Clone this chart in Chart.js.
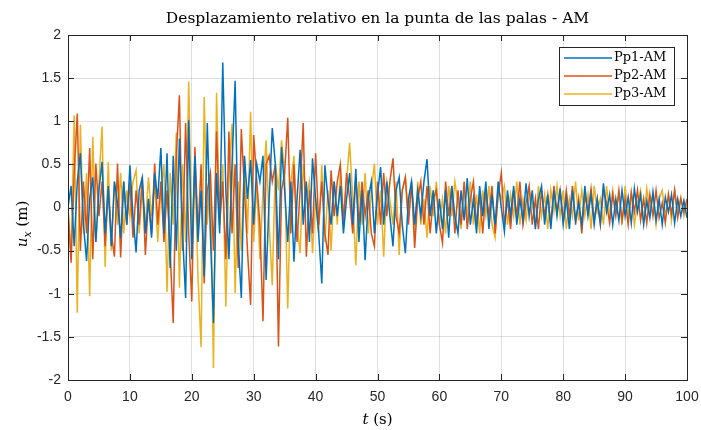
<!DOCTYPE html>
<html>
<head>
<meta charset="utf-8">
<script src="https://cdn.jsdelivr.net/npm/chart.js@4.4.0/dist/chart.umd.min.js"></script>
<style>
  html, body { margin: 0; padding: 0; background: #fff; }
  #wrap { width: 701px; height: 430px; }
</style>
</head>
<body>
<div id="wrap"><canvas id="myChart" width="701" height="430"></canvas></div>
<script>
//
// data (one value every 0.5 s, 0 .. 100 s)
//
const titleText = 'Desplazamiento relativo en la punta de las palas - AM';
const seriesNames = ['Pp1-AM', 'Pp2-AM', 'Pp3-AM'];
const seriesColors = ['#0072BD', '#D95319', '#EDB120'];
const xTicks = [0, 10, 20, 30, 40, 50, 60, 70, 80, 90, 100];
const yTicks = [-2, -1.5, -1, -0.5, 0, 0.5, 1, 1.5, 2];
const dt = 0.5;

const pp1 = [
    0.0, 0.25, -0.45, 0.3, 0.63, -0.2, -0.62, 0.1, 0.35, -0.4, 0.2, 0.53, -0.3, 0.25, -0.45, 0.3, 0.05, -0.35, 0.3, -0.2,
    0.49, -0.1, -0.52, 0.2, 0.35, -0.3, 0.1, -0.35, 0.4, 0.1, 0.69, -0.3, 0.63, -0.7, 0.6, -0.5, 0.8, -0.3, -1.05, 1.01,
    -0.6, 0.6, -0.4, 0.2, -0.8, 0.98, -0.3, -1.34, 0.4, -0.3, 1.68, 0.2, -0.6, 0.5, 1.47, -0.4, -1.05, 0.6, 0.1, 0.55,
    -0.2, 0.5, 0.3, 0.6, -0.84, 0.1, 0.92, 0.5, -0.6, 0.7, 0.2, -0.4, 0.3, -0.63, 0.1, 0.67, -0.2, 0.3, -0.4, 0.57,
    0.1, -0.3, -0.88, 0.49, 0.1, -0.2, 0.3, -0.1, 0.25, -0.3, 0.1, 0.4, -0.2, 0.45, -0.4, 0.2, -0.61, 0.1, 0.3, -0.3,
    0.15, 0.47, -0.2, 0.3, -0.1, -0.45, 0.2, 0.35, -0.2, -0.53, 0.1, 0.3, -0.2, 0.2, -0.1, 0.3, 0.56, -0.1, 0.2, -0.3,
    0.1, -0.25, 0.2, -0.35, 0.25, -0.1, -0.3, 0.2, -0.15, 0.34, -0.2, 0.1, -0.3, 0.25, -0.1, 0.3, -0.25, 0.15, -0.2, 0.3,
    0.0, -0.28, 0.2, -0.1, 0.25, -0.2, 0.1, -0.15, 0.28, -0.1, 0.2, -0.25, 0.1, 0.25, -0.2, 0.15, -0.25, 0.2, -0.1, 0.22,
    -0.2, 0.1, -0.25, 0.2, -0.15, 0.05, -0.2, 0.25, -0.1, 0.15, -0.2, 0.1, -0.18, 0.28, -0.05, 0.15, -0.2, 0.1, -0.15, 0.2,
    -0.1, 0.12, -0.18, 0.22, -0.05, 0.15, -0.2, 0.08, -0.12, 0.18, -0.15, 0.1, -0.2, 0.12, -0.05, 0.15, -0.18, 0.1, -0.1, 0.08,
    -0.12
];

const pp2 = [
    0.0, -0.64, 0.4, 1.09, -0.5, 0.3, -0.3, 0.69, -0.6, 0.51, -0.1, 0.3, -0.45, 0.2, -0.3, -0.57, 0.51, -0.58, 0.3, -0.2,
    0.3, -0.35, 0.2, -0.2, 0.35, -0.55, 0.1, -0.3, 0.51, -0.2, 0.3, -0.4, 0.2, -0.5, -1.34, 0.6, 1.30, -0.5, 0.98, -0.3,
    -1.09, 0.7, -0.3, 0.5, -0.88, 0.2, 0.4, -0.5, 0.88, -0.2, 0.3, -0.6, 0.88, -0.3, 0.5, -0.7, 0.91, 0.2, -0.5, -1.13,
    0.84, 0.3, -0.2, -1.32, 0.5, 0.6, 0.3, 0.5, -1.61, 0.2, 0.4, 1.04, -0.3, 0.5, -0.4, 0.2, 0.98, -0.57, 0.2, -0.3,
    0.63, -0.2, 0.3, -0.3, -0.55, 0.43, -0.1, 0.3, 0.5, -0.2, 0.4, 0.1, -0.3, 0.35, -0.2, 0.3, -0.1, 0.2, -0.3, -0.45,
    0.3, -0.2, 0.4, -0.1, 0.3, 0.57, -0.1, -0.3, 0.2, 0.35, -0.2, 0.3, -0.47, 0.1, 0.3, -0.2, 0.25, -0.3, 0.1, 0.2,
    -0.2, -0.41, 0.3, -0.1, 0.25, -0.3, 0.2, -0.2, 0.3, -0.25, 0.1, 0.3, -0.2, 0.15, -0.3, 0.2, -0.1, 0.25, -0.3, 0.15,
    0.40, -0.2, 0.1, -0.25, 0.2, -0.1, 0.3, -0.2, 0.05, 0.25, -0.2, 0.1, -0.25, 0.2, -0.1, 0.15, -0.2, 0.25, -0.05, 0.2,
    -0.15, 0.2, -0.1, 0.25, -0.2, 0.1, -0.3, 0.15, -0.05, 0.22, -0.15, 0.1, -0.2, 0.2, 0.05, -0.18, 0.15, -0.1, 0.2, -0.15,
    0.1, -0.2, 0.18, -0.05, 0.2, -0.15, 0.1, -0.18, 0.15, -0.1, 0.2, -0.12, 0.05, -0.18, 0.15, -0.08, 0.2, -0.12, 0.1, -0.05,
    0.1
];

const pp3 = [
    -0.05, -0.55, 1.07, -1.22, 0.96, -0.3, 0.4, -1.03, 0.82, -0.4, 0.3, 0.94, -0.69, 0.53, -0.5, 0.3, -0.2, 0.4, -0.3, 0.2,
    -0.1, 0.3, 0.43, -0.3, 0.2, -0.2, 0.35, -0.1, 0.3, -0.4, 0.2, 0.5, -0.98, 0.4, -0.2, 0.87, -0.93, 0.5, -0.4, 1.46,
    -0.3, 0.5, -0.8, -1.62, 1.28, -0.2, 0.4, -1.86, 1.33, -0.2, 0.5, -1.15, 0.4, 0.97, -0.99, 0.3, -0.5, 0.6, -0.3, 1.11,
    -0.4, 0.3, -0.6, 0.2, 0.78, -0.2, -0.9, 0.5, 0.2, 0.78, 0.4, -1.17, 0.3, 0.6, -0.2, -0.53, 0.5, 0.1, 0.3, -0.53,
    0.1, -0.3, 0.49, -0.4, 0.2, -0.5, 0.3, -0.2, 0.4, -0.1, 0.3, 0.75, 0.1, -0.67, 0.3, -0.2, 0.4, -0.3, 0.2, 0.51,
    -0.2, 0.2, -0.57, 0.3, 0.1, -0.2, 0.3, -0.55, 0.2, 0.35, -0.1, 0.25, -0.3, 0.3, -0.2, 0.1, -0.35, 0.25, -0.1, 0.3,
    -0.2, 0.1, -0.3, 0.25, -0.1, 0.3, 0.05, -0.25, 0.2, -0.1, 0.3, -0.2, 0.15, -0.3, 0.2, -0.1, 0.25, -0.2, -0.35, 0.2,
    0.1, 0.25, -0.2, 0.15, -0.1, 0.3, -0.2, 0.1, -0.15, 0.2, 0.05, -0.2, 0.25, -0.1, 0.15, -0.25, 0.2, -0.05, 0.25, -0.1,
    0.2, -0.25, 0.1, -0.1, 0.3, -0.15, 0.2, -0.1, 0.15, -0.25, 0.25, -0.05, 0.1, -0.2, 0.25, -0.1, 0.2, -0.05, 0.15, -0.2,
    0.25, -0.1, 0.15, -0.2, 0.05, 0.2, -0.15, 0.22, -0.05, 0.15, -0.2, 0.1, 0.2, -0.1, 0.15, -0.15, 0.2, -0.05, 0.12, -0.1,
    0.05
];

const allSeries = [pp1, pp2, pp3];

//
// datasets
//
const axisColor = '#262626';
const tickFont = { family: "'Liberation Sans', Arial, sans-serif", size: 14 };
const serif = "'DejaVu Serif', 'Liberation Serif', serif";

let datasets = [];
for (let i = 0; i < allSeries.length; i++) {
    datasets[i] = {
        label: seriesNames[i],
        data: allSeries[i].map((v, k) => ({ x: k * dt, y: v })),
        borderColor: seriesColors[i],
        backgroundColor: seriesColors[i],
        borderWidth: 1.5,
        pointRadius: 0,
        tension: 0,
        fill: false,
    };
}

//
// frame, inward ticks, legend box, title and axis labels (MATLAB look)
//
const matlabDecor = {
    id: 'matlabDecor',
    afterDraw(chart) {
        const ctx = chart.ctx;
        const a = chart.chartArea;
        const xs = chart.scales.x, ys = chart.scales.y;
        ctx.save();

        // box
        ctx.strokeStyle = axisColor;
        ctx.lineWidth = 1;
        ctx.strokeRect(Math.round(a.left) + 0.5, Math.round(a.top) + 0.5,
            Math.round(a.right - a.left), Math.round(a.bottom - a.top));

        // inward ticks
        ctx.beginPath();
        xTicks.forEach(v => {
            const px = Math.round(xs.getPixelForValue(v)) + 0.5;
            ctx.moveTo(px, a.bottom); ctx.lineTo(px, a.bottom - 6);
            ctx.moveTo(px, a.top); ctx.lineTo(px, a.top + 6);
        });
        yTicks.forEach(v => {
            const py = Math.round(ys.getPixelForValue(v)) + 0.5;
            ctx.moveTo(a.left, py); ctx.lineTo(a.left + 6, py);
            ctx.moveTo(a.right, py); ctx.lineTo(a.right - 6, py);
        });
        ctx.stroke();

        // legend
        const lx = 559, ly = 47, lw = 115, lh = 58;
        ctx.fillStyle = '#fff';
        ctx.fillRect(lx, ly, lw, lh);
        ctx.strokeStyle = axisColor;
        ctx.strokeRect(lx + 0.5, ly + 0.5, lw, lh);
        ctx.font = '13px ' + serif;
        ctx.textBaseline = 'middle';
        ctx.textAlign = 'left';
        for (let i = 0; i < seriesNames.length; i++) {
            const ry = ly + 11 + i * 18;
            ctx.strokeStyle = seriesColors[i];
            ctx.lineWidth = 1.6;
            ctx.beginPath();
            ctx.moveTo(lx + 5, ry); ctx.lineTo(lx + 53, ry);
            ctx.stroke();
            ctx.fillStyle = '#000';
            ctx.fillText(seriesNames[i], lx + 55, ry);
        }

        // title
        const cx = (a.left + a.right) / 2;
        ctx.fillStyle = '#000';
        ctx.textAlign = 'center';
        ctx.textBaseline = 'alphabetic';
        ctx.font = '15.5px ' + serif;
        ctx.fillText(titleText, cx, 23);

        // x label: t (s)
        ctx.font = 'italic 15px ' + serif;
        const tW = ctx.measureText('t').width;
        ctx.font = '15px ' + serif;
        const restW = ctx.measureText(' (s)').width;
        let sx = cx - (tW + restW) / 2;
        ctx.textAlign = 'left';
        ctx.font = 'italic 15px ' + serif;
        ctx.fillText('t', sx, 424);
        ctx.font = '15px ' + serif;
        ctx.fillText(' (s)', sx + tW, 424);

        // y label: u_x (m)
        ctx.translate(27, 224);
        ctx.rotate(-Math.PI / 2);
        ctx.font = 'italic 15px ' + serif;
        const uW = ctx.measureText('u').width;
        ctx.font = 'italic 11px ' + serif;
        const subW = ctx.measureText('x').width;
        ctx.font = '15px ' + serif;
        const mW = ctx.measureText(' (m)').width;
        let ux = -(uW + subW + mW) / 2;
        ctx.font = 'italic 15px ' + serif;
        ctx.fillText('u', ux, 0);
        ctx.font = 'italic 11px ' + serif;
        ctx.fillText('x', ux + uW, 4);
        ctx.font = '15px ' + serif;
        ctx.fillText(' (m)', ux + uW + subW, 0);

        ctx.restore();
    }
};

//
// CHART
//
const myChart = new Chart(document.getElementById('myChart').getContext('2d'), {
    type: 'line',
    data: { datasets: datasets },
    options: {
        responsive: false,
        animation: false,
        events: [],
        layout: { padding: { left: 10, right: 14, top: 35, bottom: 0 } },
        plugins: {
            legend: { display: false },
            title: { display: false },
            tooltip: { enabled: false },
        },
        scales: {
            x: {
                type: 'linear',
                min: 0,
                max: 100,
                afterFit(s) { s.height = 50; s.paddingRight = 0; },
                afterBuildTicks(s) { s.ticks = xTicks.map(v => ({ value: v })); },
                ticks: { color: axisColor, font: tickFont, padding: 9, maxRotation: 0 },
                grid: { color: 'rgba(38,38,38,0.15)', drawTicks: false },
                border: { display: false },
            },
            y: {
                type: 'linear',
                min: -2,
                max: 2,
                afterFit(s) { s.width = 58; },
                afterBuildTicks(s) { s.ticks = yTicks.map(v => ({ value: v })); },
                ticks: { color: axisColor, font: tickFont, padding: 7, callback: v => String(v) },
                grid: { color: 'rgba(38,38,38,0.15)', drawTicks: false },
                border: { display: false },
            },
        },
    },
    plugins: [matlabDecor],
});
</script>
</body>
</html>
